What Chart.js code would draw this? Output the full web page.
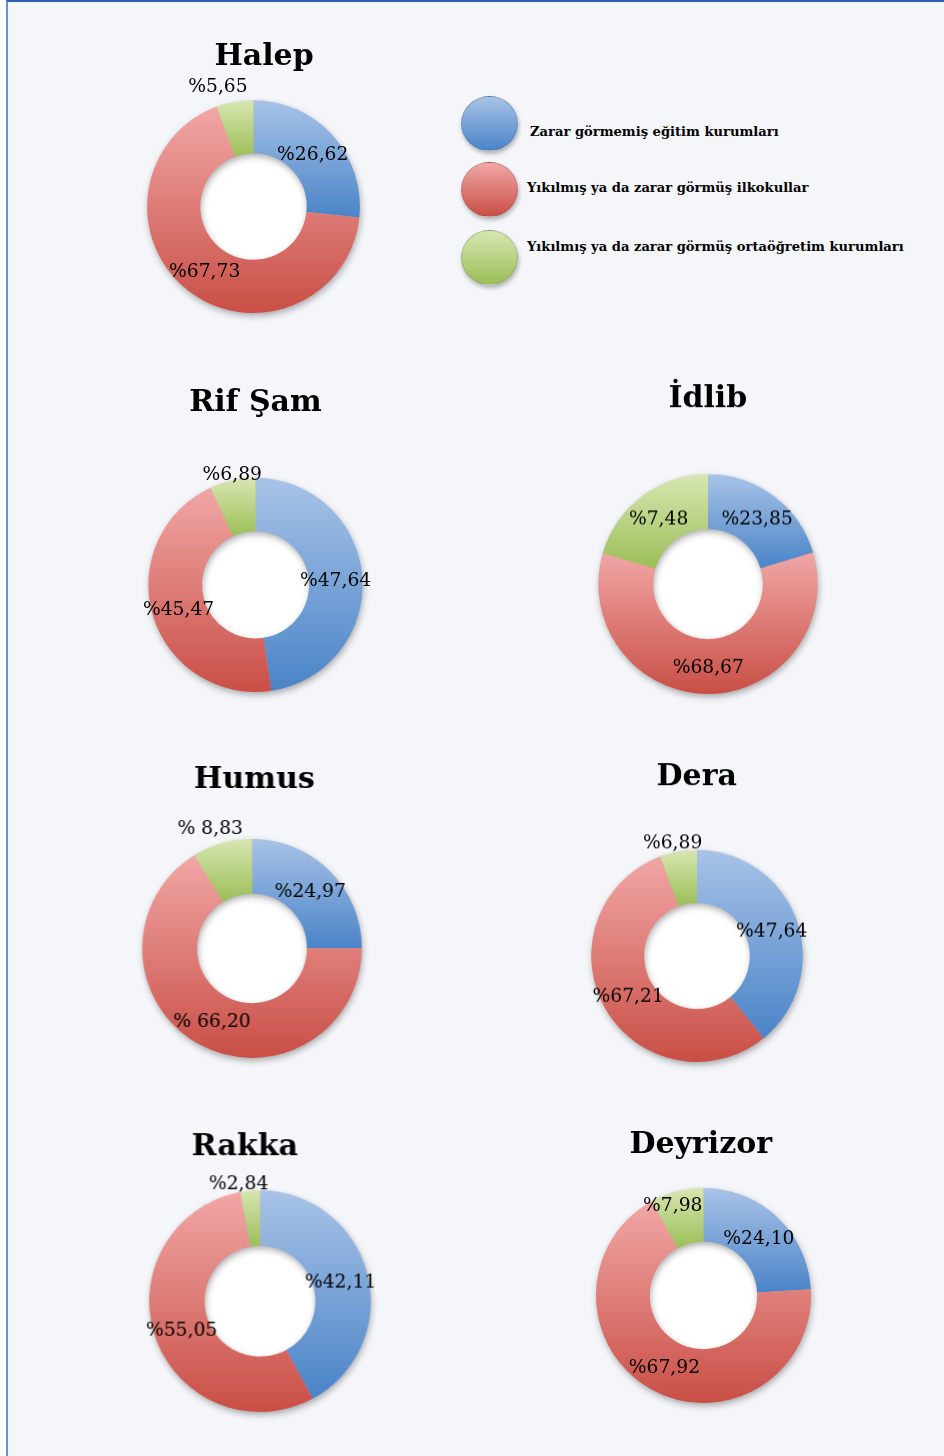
<!DOCTYPE html>
<html>
<head>
<meta charset="utf-8">
<script src="https://cdn.jsdelivr.net/npm/chart.js@4.4.1/dist/chart.umd.min.js"></script>
<style>
  body { margin: 0; width: 944px; height: 1456px; background: #ffffff; overflow: hidden; font-family: 'DejaVu Serif', serif; }
  #page { position: absolute; left: 6px; top: 0; width: 938px; height: 1456px; background: #f5f6fa;
          border-left: 2px solid #6690cf; border-top: 2px solid #2d5eaf; box-sizing: border-box; }
  canvas { position: absolute; }
  .dot { position: absolute; width: 57px; height: 55px; border-radius: 50%; box-sizing: border-box;
         border: 1px solid rgba(90, 90, 90, 0.25); box-shadow: 1px 3px 4px rgba(0, 0, 0, 0.28); }
  .legtext { position: absolute; font-weight: bold; font-size: 13.1px; color: #000; white-space: nowrap; line-height: 16px; }
</style>
</head>
<body>
<div id="page"></div>
<canvas id="halep"></canvas>
<canvas id="rifsam"></canvas>
<canvas id="idlib"></canvas>
<canvas id="humus"></canvas>
<canvas id="dera"></canvas>
<canvas id="rakka"></canvas>
<canvas id="deyrizor"></canvas>
<div id="legend"></div>

<script>
// categories (legend)
var categories = ['Zarar görmemiş eğitim kurumları',
                  'Yıkılmış ya da zarar görmüş ilkokullar',
                  'Yıkılmış ya da zarar görmüş ortaöğretim kurumları'];

// slice values, one array per city (blue, red, green)
var halepValues    = [26.62, 67.73, 5.65];
var rifSamValues   = [47.64, 45.47, 6.89];
var idlibValues    = [20.4, 59.1, 20.5];   // slices as drawn in the picture
var humusValues    = [24.97, 66.20, 8.83];
var deraValues     = [47.64, 67.21, 6.89];
var rakkaValues    = [42.11, 55.05, 2.84];
var deyrizorValues = [24.10, 67.92, 7.98];

// printed labels
var halepLabels    = ['%26,62', '%67,73', '%5,65'];
var rifSamLabels   = ['%47,64', '%45,47', '%6,89'];
var idlibLabels    = ['%23,85', '%68,67', '%7,48'];
var humusLabels    = ['%24,97', '% 66,20', '% 8,83'];
var deraLabels     = ['%47,64', '%67,21', '%6,89'];
var rakkaLabels    = ['%42,11', '%55,05', '%2,84'];
var deyrizorLabels = ['%24,10', '%67,92', '%7,98'];

var colorsTop    = ['#a8c3e7', '#f1a7a6', '#d8e6b2'];
var colorsBottom = ['#4a84c8', '#c94f46', '#9bbf57'];

var TITLE_FONT = 'bold 30px "DejaVu Serif"';
var LABEL_FONT = '18.7px "DejaVu Serif"';

function arcYRange(a) {
  var ys = [], s = a.startAngle, e = a.endAngle;
  [s, e].forEach(function (t) {
    ys.push(a.y + a.outerRadius * Math.sin(t));
    ys.push(a.y + a.innerRadius * Math.sin(t));
  });
  for (var k = -4; k <= 8; k++) {
    var t = k * Math.PI / 2;
    if (t > s && t < e) ys.push(a.y + a.outerRadius * Math.sin(t));
  }
  return [Math.min.apply(null, ys), Math.max.apply(null, ys)];
}

// shadow, white hole and per-slice vertical gradients
var ringLook = {
  id: 'ringLook',
  beforeDatasetsDraw: function (chart) {
    var ctx = chart.ctx;
    var arcs = chart.getDatasetMeta(0).data;
    var a0 = arcs[0];
    ctx.save();
    ctx.fillStyle = '#ffffff';
    ctx.beginPath();
    ctx.arc(a0.x, a0.y, a0.innerRadius + 1, 0, Math.PI * 2);
    ctx.fill();
    ctx.shadowColor = 'rgba(0,0,0,0.35)';
    ctx.shadowBlur = 7;
    ctx.shadowOffsetX = 1;
    ctx.shadowOffsetY = 3;
    ctx.fillStyle = '#d9a0a0';
    ctx.beginPath();
    ctx.arc(a0.x, a0.y, a0.outerRadius - 0.5, 0, Math.PI * 2);
    ctx.arc(a0.x, a0.y, a0.innerRadius + 0.5, Math.PI * 2, 0, true);
    ctx.closePath();
    ctx.fill();
    ctx.restore();
    arcs.forEach(function (arc, i) {
      var r = arcYRange(arc);
      var g = ctx.createLinearGradient(0, r[0], 0, r[1]);
      g.addColorStop(0, colorsTop[i]);
      g.addColorStop(1, colorsBottom[i]);
      arc.options.backgroundColor = g;
      arc.options.borderColor = g;
    });
  }
};

// city title and value labels
var cityText = {
  id: 'cityText',
  afterDatasetsDraw: function (chart, args, opts) {
    var ctx = chart.ctx;
    ctx.save();
    ctx.fillStyle = '#000000';
    ctx.textAlign = 'center';
    ctx.textBaseline = 'alphabetic';
    ctx.font = TITLE_FONT;
    ctx.fillText(opts.title, opts.titleX, opts.titleY);
    ctx.font = LABEL_FONT;
    ctx.fillStyle = '#000000';
    ctx.textBaseline = 'middle';
    chart.getDatasetMeta(0).data.forEach(function (arc, i) {
      var place = opts.place[i];
      var ang = place && place[1] != null ? (place[1] - 90) * Math.PI / 180 : (arc.startAngle + arc.endAngle) / 2;
      var f = place ? place[0] : 0.75;
      var rr = arc.outerRadius * f;
      ctx.fillText(opts.labels[i], arc.x + rr * Math.cos(ang), arc.y + rr * Math.sin(ang) + 2);
    });
    ctx.restore();
  }
};

function makeChart(id, title, values, labels, p) {
  var m = 80;
  var left = p.cx - p.r - m;
  var top = p.base - 45;
  var w = 2 * p.r + 2 * m;
  var h = p.cy + p.r + 20 - top;
  var el = document.getElementById(id);
  el.style.left = left + 'px';
  el.style.top = top + 'px';
  el.style.width = w + 'px';
  el.style.height = h + 'px';
  el.width = w;
  el.height = h;
  return new Chart(el.getContext('2d'), {
    type: 'doughnut',
    data: {
      labels: categories,
      datasets: [{
        data: values,
        backgroundColor: colorsBottom.slice(),
        borderWidth: 0
      }]
    },
    options: {
      responsive: false,
      animation: false,
      cutout: '50%',
      layout: { padding: { left: m, right: m, top: p.cy - p.r - top, bottom: 20 } },
      plugins: {
        legend: { display: false },
        tooltip: { enabled: false },
        cityText: { title: title, titleX: p.tx - left, titleY: p.base - top, labels: labels, place: p.place }
      }
    },
    plugins: [ringLook, cityText]
  });
}

makeChart('halep', 'Halep', halepValues, halepLabels,
  { cx: 253, cy: 206.7, r: 106.5, tx: 263.5, base: 65, place: [null, null, [1.19, 343.7]] });
makeChart('rifsam', 'Rif Şam', rifSamValues, rifSamLabels,
  { cx: 255, cy: 585, r: 107.5, tx: 255, base: 410.7, place: [null, null, [1.07, 348.3]] });
makeChart('idlib', 'İdlib', idlibValues, idlibLabels,
  { cx: 707.5, cy: 584, r: 110, tx: 707.3, base: 407.3, place: [null, null, null] });
makeChart('humus', 'Humus', humusValues, humusLabels,
  { cx: 252, cy: 948.8, r: 109.7, tx: 254.2, base: 788.3, place: [null, null, [1.17, 341]] });
makeChart('dera', 'Dera', deraValues, deraLabels,
  { cx: 697, cy: 955.5, r: 106, tx: 696.7, base: 785, place: [null, null, [1.107, 348]] });
makeChart('rakka', 'Rakka', rakkaValues, rakkaLabels,
  { cx: 260, cy: 1300.8, r: 110.7, tx: 244.7, base: 1155, place: [null, null, [1.093, 349.8]] });
makeChart('deyrizor', 'Deyrizor', deyrizorValues, deyrizorLabels,
  { cx: 703.3, cy: 1295.3, r: 107.7, tx: 700.3, base: 1152.7, place: [null, null, [0.9, 341.5]] });

// legend
var legendPos = [{ y: 123, tx: 530, ty: 131.7 }, { y: 189.5, tx: 527, ty: 188.3 }, { y: 257, tx: 527, ty: 246.7 }];
var legend = document.getElementById('legend');
categories.forEach(function (c, i) {
  var d = document.createElement('div');
  d.className = 'dot';
  d.style.left = (489 - 28.5) + 'px';
  d.style.top = (legendPos[i].y - 27.5) + 'px';
  d.style.background = 'linear-gradient(to bottom, ' + colorsTop[i] + ', ' + colorsBottom[i] + ')';
  legend.appendChild(d);
  var t = document.createElement('div');
  t.className = 'legtext';
  t.textContent = c;
  t.style.left = legendPos[i].tx + 'px';
  t.style.top = (legendPos[i].ty - 8) + 'px';
  legend.appendChild(t);
});
</script>
</body>
</html>
